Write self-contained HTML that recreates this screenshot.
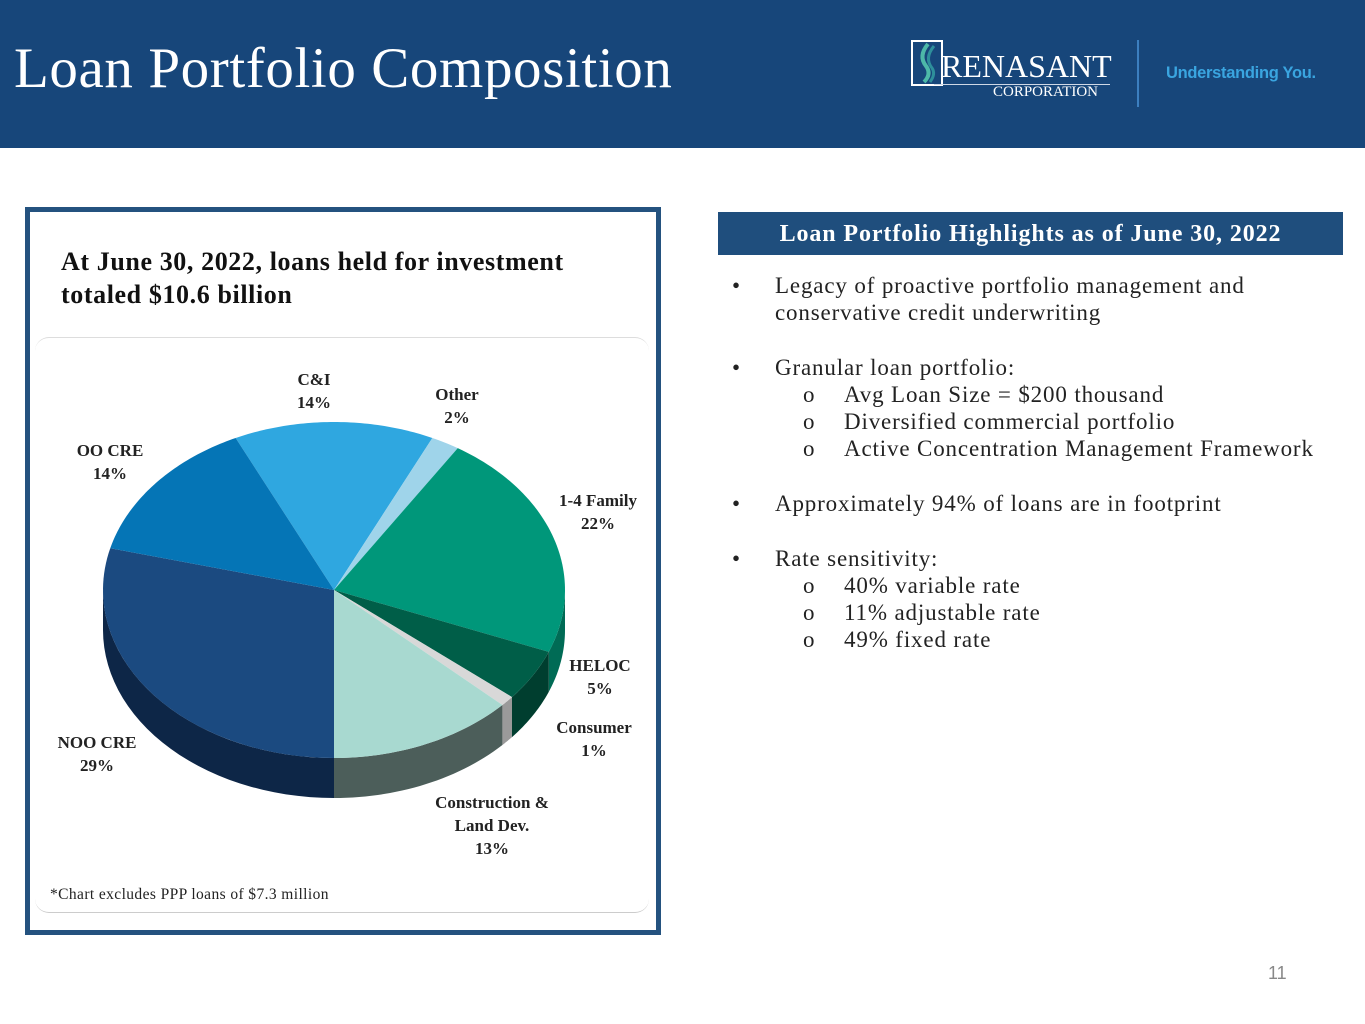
<!DOCTYPE html>
<html><head><meta charset="utf-8">
<style>
body{margin:0;width:1365px;height:1024px;position:relative;background:#fff;font-family:"Liberation Serif",serif;overflow:hidden}
.abs{position:absolute}
#hdr{left:0;top:0;width:1365px;height:148px;background:#17467a}
#title{left:14px;top:36px;font-size:57px;color:#fff;white-space:nowrap;letter-spacing:0.6px}
#box{left:25px;top:207px;width:626px;height:718px;border:5px solid #24527f}
#inner{left:35px;top:337px;width:614px;height:574px;border-top:1px solid #ddd;border-bottom:1px solid #ccc;border-radius:14px}
#sub{left:61px;top:245px;font-size:26px;font-weight:bold;line-height:33px;color:#111;letter-spacing:0.6px;white-space:nowrap}
#note{left:50px;top:886px;font-size:15.5px;color:#222;letter-spacing:0.4px}
.lbl{position:absolute;font-size:17px;font-weight:bold;text-align:center;line-height:23px;color:#222;white-space:nowrap}
#hl{left:718px;top:212px;width:625px;height:43px;background:#1f4e7d;color:#fff;font-size:24px;font-weight:bold;text-align:center;line-height:44px;letter-spacing:0.9px}
.t{position:absolute;font-size:23px;color:#222;white-space:nowrap;line-height:27px;letter-spacing:0.85px}
</style></head><body>
<div id="hdr" class="abs"></div>
<div id="title" class="abs">Loan Portfolio Composition</div>
<div class="abs" style="left:910px;top:40px;width:202px;height:62px">
  <div class="abs" style="left:1px;top:0;width:28px;height:42px;border:2px solid #fff"></div>
  <svg class="abs" style="left:4px;top:2px" width="26" height="42"><path d="M14 2 Q4 14 12 24 Q18 32 10 40" stroke="#4db8a8" stroke-width="4" fill="none"/><path d="M20 4 Q10 16 18 26 Q22 32 16 40" stroke="#2e8f9b" stroke-width="3" fill="none"/></svg>
  <div class="abs" style="left:31px;top:8px;font-size:32px;color:#fff">RENASANT</div>
  <div class="abs" style="left:24px;top:44px;width:176px;height:1px;background:#cfd8e6"></div>
  <div class="abs" style="left:83px;top:44px;font-size:15px;color:#fff">CORPORATION</div>
</div>
<div class="abs" style="left:1137px;top:40px;width:2px;height:67px;background:#3c7fc0"></div>
<div class="abs" style="left:1166px;top:64px;font-family:'Liberation Sans',sans-serif;font-weight:bold;font-size:16.5px;color:#3aa5e0;letter-spacing:-0.3px">Understanding You.</div>

<div id="box" class="abs"></div>
<div id="inner" class="abs"></div>
<div id="sub" class="abs">At June 30, 2022, loans held for investment<br>totaled $10.6 billion</div>
<svg id="pie" class="abs" style="left:0;top:0" width="700" height="1024"></svg>
<div id="labels"></div>
<div id="note" class="abs">*Chart excludes PPP loans of $7.3 million</div>

<div id="hl" class="abs">Loan Portfolio Highlights as of June 30, 2022</div>
<div>
<div class="t" style="left:732px;top:272px">•</div>
<div class="t" style="left:775px;top:272px">Legacy of proactive portfolio management and<br>conservative credit underwriting</div>
<div class="t" style="left:732px;top:354px">•</div>
<div class="t" style="left:775px;top:354px">Granular loan portfolio:</div>
<div class="t" style="left:803px;top:381px">o</div><div class="t" style="left:844px;top:381px">Avg Loan Size = $200 thousand</div>
<div class="t" style="left:803px;top:408px">o</div><div class="t" style="left:844px;top:408px">Diversified commercial portfolio</div>
<div class="t" style="left:803px;top:435px">o</div><div class="t" style="left:844px;top:435px">Active Concentration Management Framework</div>
<div class="t" style="left:732px;top:490px">•</div>
<div class="t" style="left:775px;top:490px">Approximately 94% of loans are in footprint</div>
<div class="t" style="left:732px;top:545px">•</div>
<div class="t" style="left:775px;top:545px">Rate sensitivity:</div>
<div class="t" style="left:803px;top:572px">o</div><div class="t" style="left:844px;top:572px">40% variable rate</div>
<div class="t" style="left:803px;top:599px">o</div><div class="t" style="left:844px;top:599px">11% adjustable rate</div>
<div class="t" style="left:803px;top:626px">o</div><div class="t" style="left:844px;top:626px">49% fixed rate</div>
</div>
<div class="abs" style="left:1268px;top:963px;font-family:'Liberation Sans',sans-serif;font-size:18px;color:#888">11</div>

<script>
const categories=["C&I","Other","1-4 Family","HELOC","Consumer","Construction & Land Dev.","NOO CRE","OO CRE"];
const values=[14,2,22,5,1,13,29,14];
const colors=["#2fa7e0","#9fd4ea","#00977a","#005e48","#d8d8d8","#a8d9d0","#1b4a80","#0575b6"];
const sideColors=["#1d7fb0","#7fb0c4","#006b55","#003e2f","#9a9a9a","#4c5e5a","#0d2647","#035487"];
const labelHTML=["C&I<br>14%","Other<br>2%","1-4 Family<br>22%","HELOC<br>5%","Consumer<br>1%","Construction &amp;<br>Land Dev.<br>13%","NOO CRE<br>29%","OO CRE<br>14%"];
const labelPos=[[314,368],[457,383],[598,489],[600,654],[594,716],[492,791],[97,731],[110,439]];
const startAngle=334.8;
const cx=334,cy=590,rx=231,ry=168,depth=40;
const svg=document.getElementById('pie');
const NS='http://www.w3.org/2000/svg';
function pt(a,dy){const r=a*Math.PI/180;return [cx+rx*Math.sin(r),cy-ry*Math.cos(r)+(dy||0)];}
const total=values.reduce((a,b)=>a+b,0);
let ang=startAngle;const arcs=[];
values.forEach(v=>{const s=ang,e=ang+v/total*360;arcs.push([s,e]);ang=e;});
arcs.forEach((ar,i)=>{
  for(let k=-1;k<=1;k++){
    const s=Math.max(ar[0],90+360*k),e=Math.min(ar[1],270+360*k);
    if(e<=s) continue;
    const n=30;const top=[],bot=[];
    for(let j=0;j<=n;j++){const a=s+(e-s)*j/n;top.push(pt(a,0));bot.push(pt(a,depth));}
    const d='M'+top.map(p=>p.join(',')).join(' L')+' L'+bot.reverse().map(p=>p.join(',')).join(' L')+' Z';
    const p=document.createElementNS(NS,'path');p.setAttribute('d',d);p.setAttribute('fill',sideColors[i]);
    
    
    svg.appendChild(p);
  }
});
arcs.forEach((ar,i)=>{
  const [s,e]=ar;const n=60;let d='M'+cx+','+cy;
  for(let j=0;j<=n;j++){const p=pt(s+(e-s)*j/n);d+=' L'+p[0]+','+p[1];}
  d+=' Z';
  const p=document.createElementNS(NS,'path');p.setAttribute('d',d);p.setAttribute('fill',colors[i]);
  
  
  svg.appendChild(p);
});
const lw=document.getElementById('labels');
labelHTML.forEach((h,i)=>{
  const d=document.createElement('div');d.className='lbl';d.innerHTML=h;
  d.style.left=labelPos[i][0]+'px';d.style.top=labelPos[i][1]+'px';d.style.transform='translateX(-50%)';
  
  
  lw.appendChild(d);
});
</script>
</body></html>
